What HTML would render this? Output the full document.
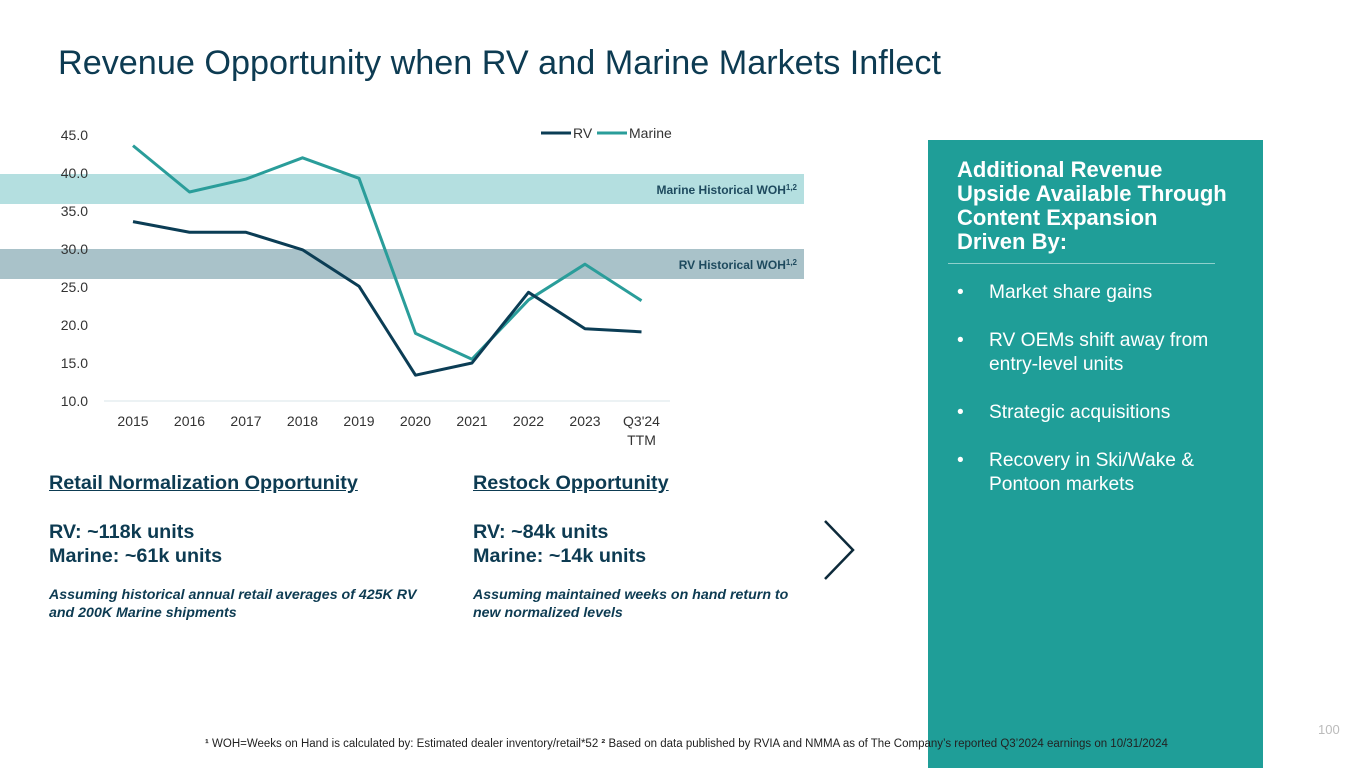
<!DOCTYPE html>
<html><head><meta charset="utf-8"><style>
body{margin:0;width:1365px;height:768px;background:#fff;font-family:"Liberation Sans",Arial,sans-serif;position:relative;overflow:hidden}
.abs{position:absolute}
</style></head><body>
<div class="abs" style="left:58px;top:44px;font-size:34.2px;color:#0d3b52;white-space:nowrap">Revenue Opportunity when RV and Marine Markets Inflect</div>
<svg class="abs" style="left:0;top:0" width="900" height="470">
<rect x="0" y="174" width="804" height="30" fill="#b4dfe0"/>
<rect x="0" y="249" width="804" height="30" fill="#a9c2c9"/>
<text x="797" y="194" text-anchor="end" font-size="12" font-weight="bold" fill="#1e4a5e">Marine Historical WOH<tspan font-size="8" dy="-4">1,2</tspan></text>
<text x="797" y="269" text-anchor="end" font-size="12" font-weight="bold" fill="#1e4a5e">RV Historical WOH<tspan font-size="8" dy="-4">1,2</tspan></text>
<line x1="104" y1="401" x2="670" y2="401" stroke="#d9e6ea"/>
<g id="yt"></g><g id="xt"></g><g id="lines"></g>
<g>
<line x1="541" y1="133" x2="571" y2="133" stroke="#0b3d55" stroke-width="3"/><text x="573" y="138" font-size="14" fill="#333">RV</text>
<line x1="597" y1="133" x2="627" y2="133" stroke="#2a9d9a" stroke-width="3"/><text x="629" y="138" font-size="14" fill="#333">Marine</text>
</g>
</svg>
<script>
const categories=["2015","2016","2017","2018","2019","2020","2021","2022","2023","Q3'24"];
const rvValues=[33.6,32.2,32.2,29.9,25.1,13.4,15.0,24.3,19.5,19.1];
const marineValues=[43.6,37.5,39.2,42.0,39.3,18.9,15.5,23.3,28.0,23.2];
const yTicks=[10,15,20,25,30,35,40,45];
const NS="http://www.w3.org/2000/svg";
const x=i=>133+i*56.5, y=v=>401-(v-10)*7.6;
const yt=document.getElementById('yt'),xt=document.getElementById('xt'),lg=document.getElementById('lines');
yTicks.forEach(t=>{const e=document.createElementNS(NS,'text');e.setAttribute('x',88);e.setAttribute('y',y(t)+5);e.setAttribute('text-anchor','end');e.setAttribute('font-size','14');e.setAttribute('fill','#333');e.textContent=t.toFixed(1);


yt.appendChild(e);});
categories.forEach((c,i)=>{const e=document.createElementNS(NS,'text');e.setAttribute('x',x(i));e.setAttribute('y',426);e.setAttribute('text-anchor','middle');e.setAttribute('font-size','14');e.setAttribute('fill','#333');e.textContent=c;


xt.appendChild(e);
if(c.startsWith('Q3')){const t=document.createElementNS(NS,'text');t.setAttribute('x',x(i));t.setAttribute('y',445);t.setAttribute('text-anchor','middle');t.setAttribute('font-size','14');t.setAttribute('fill','#333');t.textContent='TTM';


xt.appendChild(t);}});
[[marineValues,'#2a9d9a','marine-line'],[rvValues,'#0b3d55','rv-line']].forEach(([d,c,n])=>{const p=document.createElementNS(NS,'polyline');p.setAttribute('points',d.map((v,i)=>x(i)+','+y(v)).join(' '));p.setAttribute('fill','none');p.setAttribute('stroke',c);p.setAttribute('stroke-width','3');p.setAttribute('stroke-linejoin','round');


lg.appendChild(p);});
</script>
<div class="abs" style="left:49px;top:472px;color:#0d3b52;white-space:nowrap">
<div style="font-size:19.8px;font-weight:bold;text-decoration:underline">Retail Normalization Opportunity</div>
<div style="font-size:19.8px;font-weight:bold;margin-top:25px;line-height:24px">RV: ~118k units<br>Marine: ~61k units</div>
<div style="font-size:14.2px;font-weight:bold;font-style:italic;margin-top:18px;line-height:18px">Assuming historical annual retail averages of 425K RV<br>and 200K Marine shipments</div></div>
<div class="abs" style="left:473px;top:472px;color:#0d3b52;white-space:nowrap">
<div style="font-size:19.8px;font-weight:bold;text-decoration:underline">Restock Opportunity</div>
<div style="font-size:19.8px;font-weight:bold;margin-top:25px;line-height:24px">RV: ~84k units<br>Marine: ~14k units</div>
<div style="font-size:14.2px;font-weight:bold;font-style:italic;margin-top:18px;line-height:18px">Assuming maintained weeks on hand return to<br>new normalized levels</div></div>
<svg class="abs" style="left:820px;top:518px" width="40" height="64"><polyline points="5,3 33,32 5,61" fill="none" stroke="#0d2a3a" stroke-width="2.5"/></svg>
<div class="abs" style="left:928px;top:140px;width:335px;height:628px;background:#1f9e98;color:#fff">
<div style="position:absolute;left:29px;top:18px;font-size:22px;font-weight:bold;line-height:24px;white-space:nowrap">Additional Revenue<br>Upside Available Through<br>Content Expansion<br>Driven By:</div>
<div style="position:absolute;left:20px;top:123px;width:267px;border-top:1px solid #8fd0cc"></div>
<div style="position:absolute;left:29px;top:141px;font-size:19.2px;line-height:24px;white-space:nowrap">
<div style="display:flex"><span style="width:32px">•</span><span>Market share gains</span></div>
<div style="display:flex;margin-top:24px"><span style="width:32px">•</span><span>RV OEMs shift away from<br>entry-level units</span></div>
<div style="display:flex;margin-top:24px"><span style="width:32px">•</span><span>Strategic acquisitions</span></div>
<div style="display:flex;margin-top:24px"><span style="width:32px">•</span><span>Recovery in Ski/Wake &amp;<br>Pontoon markets</span></div></div></div>
<div class="abs" style="left:205px;top:738px;font-size:11.5px;color:#222;white-space:nowrap"><b>¹</b> WOH=Weeks on Hand is calculated by: Estimated dealer inventory/retail*52 <b>²</b> Based on data published by RVIA and NMMA as of The Company’s reported Q3’2024 earnings on 10/31/2024</div>
<div class="abs" style="left:1318px;top:722px;font-size:13px;color:#bbb">100</div>
</body></html>
